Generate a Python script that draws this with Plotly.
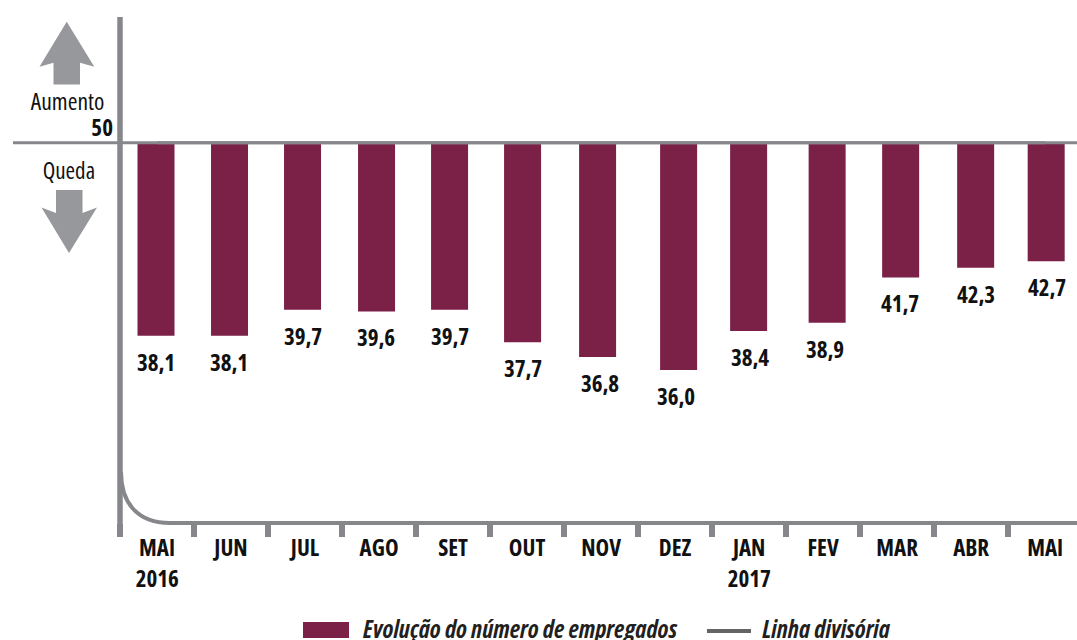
import plotly.graph_objects as go

categories = ["MAI 2016", "JUN 2016", "JUL 2016", "AGO 2016", "SET 2016", "OUT 2016", "NOV 2016",
              "DEZ 2016", "JAN 2017", "FEV 2017", "MAR 2017", "ABR 2017", "MAI 2017"]
tick_labels = ["MAI", "JUN", "JUL", "AGO", "SET", "OUT", "NOV", "DEZ", "JAN", "FEV", "MAR", "ABR", "MAI"]
values = [38.1, 38.1, 39.7, 39.6, 39.7, 37.7, 36.8, 36.0, 38.4, 38.9, 41.7, 42.3, 42.7]
divider = 50
year_labels = {"MAI 2016": "2016", "JAN 2017": "2017"}

W, H = 1077, 640
ML, MR, MT, MB = 120, 0, 17, 117
PW, PH = W - ML - MR, H - MT - MB
CATEGORY_PX = 74
BAR_WIDTH = 0.5
# the original's bars sit slightly off an even grid (pixels)
bar_nudge = [-1, -1.5, -2.5, -2.5, -3.5, -4.5, -3.5, 3.5, -0.5, 4, 3.5, 4.5, 1]
label_nudge = [-1, -2, -2, -3, -3, -4, -1, 1, 1, 2, 3, 5, 2]
FONT = "Open Sans"
BAR = "#7B2148"
GREY = "#86878A"
ARROW = "#97989B"
INK = "#111111"


def px(x):
    return (x - ML) / PW


def py(y):
    return 1 - (y - MT) / PH


def poly(points):
    return "M " + " L ".join(f"{px(x):.5f},{py(y):.5f}" for x, y in points) + " Z"


fig = go.Figure()
fig.add_bar(x=categories, y=[v - divider for v in values], base=divider, width=BAR_WIDTH,
            offset=[n / CATEGORY_PX - BAR_WIDTH / 2 for n in bar_nudge],
            marker=dict(color=BAR, line=dict(width=0)), name="Evolução do número de empregados",
            showlegend=False, hoverinfo="skip")
fig.add_scatter(x=categories, y=[divider] * len(categories), mode="lines",
                line=dict(color=GREY, width=3), name="Linha divisória", showlegend=False, hoverinfo="skip")

annotations = []
for c, v, n in zip(categories, values, label_nudge):
    annotations.append(dict(x=c, y=v, xref="x", yref="y", yanchor="top", yshift=-8, xshift=n, showarrow=False,
                            text=f"<b>{v:.1f}</b>".replace(".", ","), font=dict(family=FONT, size=23, color=INK)))
for c, t in year_labels.items():
    annotations.append(dict(x=c, y=py(578), xref="x", yref="paper", yanchor="middle", showarrow=False,
                            text=f"<b>{t}</b>", font=dict(family=FONT, size=23, color=INK)))


def label(x, y, text, size=22, color=INK):
    annotations.append(dict(x=px(x), y=py(y), xref="paper", yref="paper", xanchor="center", yanchor="middle",
                            showarrow=False, text=text, font=dict(family=FONT, size=size, color=color)))


label(67.5, 101, "Aumento", size=23.5)
label(101.5, 127, "<b>50</b>", size=23)
label(69, 170, "Queda", size=23)
label(520, 628, "<b><i>Evolução do número de empregados</i></b>", size=24.5, color="#231F20")
label(826.5, 628, "<b><i>Linha divisória</i></b>", size=24.5, color="#231F20")

shapes = [
    dict(type="line", xref="paper", yref="y", x0=px(13), x1=1, y0=divider, y1=divider,
         line=dict(color=GREY, width=3)),
    dict(type="line", xref="paper", yref="paper", x0=0, x1=0, y0=py(17), y1=py(535),
         line=dict(color=GREY, width=5.5)),
    dict(type="line", xref="paper", yref="paper", x0=px(168), x1=1, y0=py(523), y1=py(523),
         line=dict(color=GREY, width=4)),
    dict(type="path", xref="paper", yref="paper",
         path=f"M {px(121):.5f},{py(472):.5f} C {px(121):.5f},{py(500):.5f} {px(135):.5f},{py(523):.5f} {px(170):.5f},{py(523):.5f}",
         line=dict(color=GREY, width=4)),
    dict(type="path", xref="paper", yref="paper", fillcolor=ARROW, line=dict(width=0),
         path=poly([(66.7, 21.7), (94.3, 66.7), (80, 62.7), (80, 84.5), (53.5, 84.5), (53.5, 62.7), (39.5, 66.7)])),
    dict(type="path", xref="paper", yref="paper", fillcolor=ARROW, line=dict(width=0),
         path=poly([(56, 190), (82.5, 190), (82.5, 213), (97, 207.5), (69, 253), (41.5, 207.5), (56, 213)])),
    dict(type="rect", xref="paper", yref="paper", x0=px(303), x1=px(349), y0=py(622), y1=py(638),
         fillcolor=BAR, line=dict(width=0)),
    dict(type="line", xref="paper", yref="paper", x0=px(707), x1=px(751), y0=py(631), y1=py(631),
         line=dict(color="#636466", width=4)),
]

fig.update_layout(
    width=W, height=H, autosize=False,
    margin=dict(l=ML, r=MR, t=MT, b=MB, pad=0),
    paper_bgcolor="white", plot_bgcolor="white",
    showlegend=False, annotations=annotations, shapes=shapes,
    xaxis=dict(type="category", categoryorder="array", categoryarray=categories,
               range=[-0.5, 12.43], tickmode="array", tickvals=categories, ticktext=[f"<b>{t}</b>" for t in tick_labels],
               tickson="boundaries", ticks="outside", ticklen=13, tickwidth=6, tickcolor=GREY,
               ticklabelstandoff=9,
               showline=False, showgrid=False, zeroline=False,
               tickfont=dict(family=FONT, size=23, color=INK)),
    yaxis=dict(range=[26.568, 57.745], showticklabels=False, ticks="", showline=False,
               showgrid=False, zeroline=False),
)
page_css = ("document.body.style.margin='0';document.documentElement.style.overflow='hidden';"
            "var s=document.createElement('style');s.textContent='text{font-stretch:75% !important}';"
            "document.head.appendChild(s);")
fig.write_html("out.html", config={"displayModeBar": False}, post_script=page_css)
